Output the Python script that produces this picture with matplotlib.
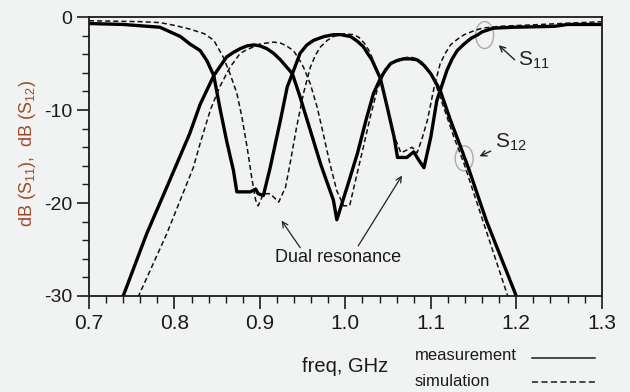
import matplotlib
matplotlib.use("Agg")
import matplotlib.pyplot as plt
from matplotlib.lines import Line2D
from matplotlib.patches import Ellipse
from matplotlib.ticker import MultipleLocator

plt.rcParams['font.family'] = ['Liberation Sans', 'DejaVu Sans']
plt.rcParams['mathtext.default'] = 'regular'
plt.rcParams['axes.unicode_minus'] = False

# ---------DATA---------
# measured S11
meas_s11_f = [0.700, 0.740, 0.783, 0.795, 0.807, 0.818, 0.830, 0.838, 0.846, 0.853,
              0.861, 0.869, 0.873, 0.889, 0.895, 0.898, 0.904, 0.912, 0.924, 0.932,
              0.938, 0.947, 0.955, 0.963, 0.975, 0.986, 0.995, 1.006, 1.014, 1.021,
              1.031, 1.041, 1.049, 1.057, 1.061, 1.072, 1.080, 1.086, 1.092, 1.100,
              1.107, 1.111, 1.119, 1.125, 1.131, 1.139, 1.147, 1.155, 1.160, 1.173,
              1.197, 1.245, 1.260, 1.300]
meas_s11_db = [-0.7, -0.8, -1.1, -1.6, -2.1, -2.9, -3.6, -4.7, -6.3, -9.7,
               -13.3, -16.5, -18.8, -18.8, -18.5, -19.0, -19.2, -16.2, -11.1, -7.5,
               -6.1, -3.9, -3.0, -2.5, -2.1, -1.9, -1.9, -2.1, -2.6, -3.2,
               -4.6, -6.6, -9.7, -12.9, -15.1, -15.1, -14.5, -15.4, -16.2, -12.9,
               -9.0, -7.9, -5.7, -4.5, -3.6, -2.9, -2.3, -1.9, -1.6, -1.2,
               -1.1, -1.0, -0.8, -0.8]

# measured S12
meas_s12_f = [0.737, 0.740, 0.7675, 0.791, 0.818, 0.830, 0.846, 0.861, 0.869, 0.877,
              0.885, 0.893, 0.900, 0.908, 0.916, 0.924, 0.938, 0.947, 0.959, 0.971,
              0.986, 0.990, 1.002, 1.014, 1.025, 1.033, 1.041, 1.047, 1.053, 1.060,
              1.068, 1.076, 1.084, 1.092, 1.100, 1.111, 1.123, 1.135, 1.145, 1.165,
              1.200, 1.203]
meas_s12_db = [-31.0, -30.0, -23.3, -18.3, -12.5, -9.4, -6.3, -4.3, -3.8, -3.4,
               -3.1, -3.0, -3.1, -3.4, -3.9, -4.6, -6.1, -8.6, -12.2, -15.8,
               -19.7, -21.8, -18.3, -14.7, -10.8, -8.2, -6.6, -5.7, -5.0, -4.7,
               -4.5, -4.5, -4.6, -5.2, -6.1, -7.9, -11.1, -14.0, -16.5, -21.9,
               -30.0, -31.0]

# simulated S11
sim_s11_f = [0.700, 0.760, 0.783, 0.800, 0.818, 0.835, 0.846, 0.857, 0.865, 0.873,
             0.879, 0.885, 0.891, 0.895, 0.898, 0.904, 0.912, 0.922, 0.930, 0.936,
             0.943, 0.951, 0.959, 0.965, 0.971, 0.979, 0.986, 0.998, 1.010, 1.016,
             1.022, 1.027, 1.032, 1.042, 1.050, 1.058, 1.065, 1.072, 1.078, 1.084,
             1.090, 1.096, 1.104, 1.111, 1.117, 1.123, 1.131, 1.139, 1.150, 1.160,
             1.180, 1.205, 1.300]
sim_s11_db = [-0.4, -0.5, -0.6, -0.9, -1.3, -1.8, -2.5, -4.3, -6.1, -8.2,
              -10.8, -14.0, -17.6, -19.7, -20.3, -19.0, -19.0, -19.9, -18.3, -15.4,
              -11.8, -8.2, -5.4, -4.1, -3.2, -2.5, -2.1, -1.8, -1.9, -2.2,
              -2.8, -3.5, -4.5, -6.9, -9.9, -13.0, -14.6, -14.3, -14.0, -14.6,
              -13.0, -11.1, -7.5, -5.0, -3.9, -3.0, -2.4, -1.9, -1.5, -1.2,
              -1.0, -0.9, -0.5]

# simulated S12
sim_s12_f = [0.755, 0.758, 0.791, 0.822, 0.830, 0.842, 0.853, 0.865, 0.877, 0.885,
             0.893, 0.900, 0.908, 0.916, 0.924, 0.931, 0.939, 0.945, 0.951, 0.959,
             0.967, 0.975, 0.982, 0.990, 0.998, 1.005, 1.010, 1.021, 1.029, 1.037,
             1.045, 1.053, 1.061, 1.068, 1.076, 1.084, 1.092, 1.098, 1.104, 1.115,
             1.127, 1.139, 1.190, 1.193]
sim_s12_db = [-31.0, -30.0, -23.3, -16.2, -13.6, -10.0, -7.5, -5.4, -3.9, -3.5,
              -3.2, -2.9, -2.8, -2.7, -2.8, -3.1, -3.6, -4.4, -5.4, -7.2,
              -9.7, -12.9, -15.8, -18.7, -20.3, -20.3, -18.3, -14.0, -10.8, -7.9,
              -6.1, -5.1, -4.6, -4.4, -4.3, -4.5, -5.0, -5.8, -6.8, -9.7,
              -12.9, -15.8, -30.0, -31.0]

x_ticks = [0.7, 0.8, 0.9, 1.0, 1.1, 1.2, 1.3]
y_ticks = [-30, -20, -10, 0]

bg = '#f1f3f2'
fig = plt.figure(figsize=(6.3, 3.92), dpi=100, facecolor=bg)
ax = fig.add_axes([0.1413, 0.2449, 0.8138, 0.7117], facecolor=bg)

dash = (0, (3.3, 2.0))
ax.plot(meas_s11_f, meas_s11_db, color='black', lw=2.4)
ax.plot(meas_s12_f, meas_s12_db, color='black', lw=2.4)
ax.plot(sim_s11_f, sim_s11_db, color='#111111', lw=1.1, ls=dash)
ax.plot(sim_s12_f, sim_s12_db, color='#111111', lw=1.1, ls=dash)

ax.set_xlim(0.7, 1.3)
ax.set_ylim(-30, 0)
ax.set_xticks(x_ticks)
ax.set_xticklabels([f"{v:.1f}" for v in x_ticks])
ax.set_yticks(y_ticks)
ax.set_yticklabels([str(v) for v in y_ticks])
ax.xaxis.set_minor_locator(MultipleLocator(0.02))
ax.yaxis.set_minor_locator(MultipleLocator(2))
ax.tick_params(axis='both', which='major', direction='out', length=9, width=1.2,
               colors='#1a1a1a')
ax.tick_params(axis='both', which='minor', direction='out', length=5, width=1.0,
               colors='#1a1a1a')
ax.tick_params(axis='x', labelsize=15, pad=4)
ax.tick_params(axis='y', labelsize=14, pad=3)
for sp in ax.spines.values():
    sp.set_linewidth(1.3)
    sp.set_color('#1a1a1a')

# gray circles and labels for S11 / S12
ax.add_patch(Ellipse((1.163, -1.94), 0.021, 2.9, fill=False, ec='#aaaaaa', lw=1.0))
ax.add_patch(Ellipse((1.139, -15.2), 0.021, 2.7, fill=False, ec='#aaaaaa', lw=1.0))
ax.annotate('', xy=(1.177, -2.83), xytext=(1.2005, -4.8),
            arrowprops=dict(arrowstyle='->', lw=1.0, color='#222222'))
ax.text(1.202, -4.7, 'S$_{11}$', fontsize=15, va='center', ha='left', color='#222222')
ax.annotate('', xy=(1.154, -15.1), xytext=(1.173, -14.3),
            arrowprops=dict(arrowstyle='->', lw=1.0, color='#222222'))
ax.text(1.175, -13.5, 'S$_{12}$', fontsize=15, va='center', ha='left', color='#222222')

# dual resonance note
ax.text(0.991, -25.9, 'Dual resonance', fontsize=13, ha='center', va='center',
        color='#1a1a1a')
ax.annotate('', xy=(0.9235, -21.65), xytext=(0.949, -25.05),
            arrowprops=dict(arrowstyle='->', lw=0.9, color='#222222'))
ax.annotate('', xy=(1.068, -16.8), xytext=(1.0133, -24.87),
            arrowprops=dict(arrowstyle='->', lw=0.9, color='#222222'))

# axis labels
fig.text(0.044, 0.61, 'dB (S$_{11}$),  dB (S$_{12}$)', rotation=90, fontsize=13,
         ha='center', va='center', color='#9b4b2b')
fig.text(0.5476, 0.064, 'freq, GHz', fontsize=14.5, ha='center', va='center',
         color='#1a1a1a')

# legend drawn by hand: text on the left, line on the right
fig.text(415 / 630, 1 - 356 / 392, 'measurement', fontsize=12, ha='left',
         va='center', color='#1a1a1a')
fig.text(415 / 630, 1 - 381 / 392, 'simulation', fontsize=12, ha='left',
         va='center', color='#1a1a1a')
fig.add_artist(Line2D([532 / 630, 595 / 630], [1 - 358 / 392, 1 - 358 / 392],
                      transform=fig.transFigure, color='#1a1a1a', lw=1.1))
fig.add_artist(Line2D([532 / 630, 597 / 630], [1 - 382 / 392, 1 - 382 / 392],
                      transform=fig.transFigure, color='#1a1a1a', lw=1.1,
                      ls=(0, (4, 2.2))))

fig.savefig('out.png', dpi=100, facecolor=bg)
